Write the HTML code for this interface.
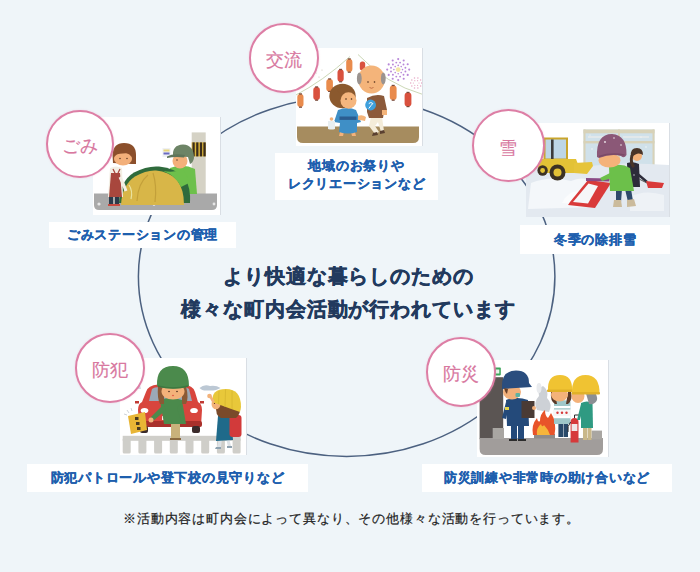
<!DOCTYPE html>
<html lang="ja"><head><meta charset="utf-8">
<style>
html,body{margin:0;padding:0;}
body{width:700px;height:572px;background:#eff5f9;position:relative;overflow:hidden;font-family:"Liberation Sans",sans-serif;}
.abs{position:absolute;}
.ring{position:absolute;left:0;top:0;}
.card{position:absolute;background:#fff;overflow:hidden;box-shadow:1px 0 0 #d9dee4;}
.card svg{display:block;}
.lbl{position:absolute;background:#fff;color:#1e5fae;font-weight:bold;font-size:13px;letter-spacing:0.75px;-webkit-text-stroke:0.3px #1e5fae;text-align:center;white-space:nowrap;line-height:18px;}
.circ{position:absolute;width:69px;height:69px;border-radius:50%;border:2px solid #dd7ea5;box-shadow:0 0 2px rgba(232,140,175,0.35);background:#fff;box-sizing:border-box;color:#d8789f;font-size:18px;-webkit-text-stroke:0.15px #d8789f;text-align:center;line-height:69px;white-space:nowrap;}
.main{position:absolute;left:0;width:697px;text-align:center;color:#223a5e;font-weight:bold;font-size:20px;letter-spacing:0.95px;-webkit-text-stroke:0.5px #223a5e;white-space:nowrap;}
.note{position:absolute;left:123px;top:510px;color:#222;-webkit-text-stroke:0.2px #222;font-size:13px;letter-spacing:0.85px;white-space:nowrap;}
</style></head>
<body>
<svg class="ring" width="700" height="572"><ellipse cx="346.65" cy="276.6" rx="208.25" ry="179.8" fill="none" stroke="#4c6180" stroke-width="1.5"/></svg>

<!-- 交流 -->
<div class="card" style="left:296px;top:48px;width:126px;height:98px;"><svg width="126" height="98" viewBox="0 0 126 98">
<path d="M1 78.5 H123 V89 Q123 95 117 95 H7 Q1 95 1 89 Z" fill="#a68c5f"/>
<path d="M-1 47.5 Q27 33 54 8.5" stroke="#c5d2ae" stroke-width="0.9" fill="none"/>
<path d="M62 6.5 Q90 36 127 46.5" stroke="#c5d2ae" stroke-width="0.9" fill="none"/>
<g fill="#e98b4c"><rect x="1.3" y="46" width="6.2" height="13" rx="3"/><rect x="30.3" y="31" width="6.6" height="12.4" rx="3"/><rect x="50.2" y="11" width="6.2" height="13" rx="3"/><rect x="93.8" y="37.5" width="6.8" height="14.5" rx="3.2"/></g>
<g fill="#d9513e"><rect x="17.3" y="39" width="6.6" height="13" rx="3"/><rect x="41.5" y="21.5" width="6.2" height="12.3" rx="3"/><rect x="63.8" y="13.5" width="5.4" height="9" rx="2.5"/><rect x="108.6" y="44.5" width="6.8" height="14" rx="3.2"/></g>
<g fill="#7a4a3a"><rect x="3" y="45.3" width="3" height="1.3"/><rect x="3" y="58.6" width="3" height="1.2"/><rect x="19.1" y="38.3" width="3" height="1.3"/><rect x="19.1" y="51.6" width="3" height="1.2"/><rect x="32.1" y="30.3" width="3" height="1.3"/><rect x="32.1" y="42.8" width="3" height="1.2"/><rect x="43.1" y="20.8" width="3" height="1.3"/><rect x="43.1" y="33.2" width="3" height="1.2"/><rect x="51.8" y="10.3" width="3" height="1.3"/><rect x="51.8" y="23.6" width="3" height="1.2"/><rect x="95.7" y="36.8" width="3" height="1.3"/><rect x="95.7" y="51.6" width="3" height="1.2"/><rect x="110.5" y="43.8" width="3" height="1.3"/><rect x="110.5" y="58" width="3" height="1.2"/></g>
<g fill="#b887d8"><circle cx="113.2" cy="21.6" r="1.05"/><circle cx="111.7" cy="26.9" r="1.05"/><circle cx="107.7" cy="30.7" r="1.05"/><circle cx="102.2" cy="32.1" r="1.05"/><circle cx="96.7" cy="30.7" r="1.05"/><circle cx="92.7" cy="26.9" r="1.05"/><circle cx="91.2" cy="21.6" r="1.05"/><circle cx="92.7" cy="16.4" r="1.05"/><circle cx="96.7" cy="12.5" r="1.05"/><circle cx="102.2" cy="11.1" r="1.05"/><circle cx="107.7" cy="12.5" r="1.05"/><circle cx="111.7" cy="16.3" r="1.05"/><circle cx="109.4" cy="23.5" r="0.95"/><circle cx="107.5" cy="26.7" r="0.95"/><circle cx="104.1" cy="28.6" r="0.95"/><circle cx="100.3" cy="28.6" r="0.95"/><circle cx="96.9" cy="26.7" r="0.95"/><circle cx="95.0" cy="23.5" r="0.95"/><circle cx="95.0" cy="19.7" r="0.95"/><circle cx="96.9" cy="16.5" r="0.95"/><circle cx="100.3" cy="14.6" r="0.95"/><circle cx="104.1" cy="14.6" r="0.95"/><circle cx="107.5" cy="16.5" r="0.95"/><circle cx="109.4" cy="19.7" r="0.95"/><circle cx="106.5" cy="21.6" r="0.8"/><circle cx="105.2" cy="24.6" r="0.8"/><circle cx="102.2" cy="25.8" r="0.8"/><circle cx="99.2" cy="24.6" r="0.8"/><circle cx="97.9" cy="21.6" r="0.8"/><circle cx="99.2" cy="18.6" r="0.8"/><circle cx="102.2" cy="17.4" r="0.8"/><circle cx="105.2" cy="18.6" r="0.8"/></g>
<circle cx="102.2" cy="21.6" r="2.4" fill="#f3e7a6"/>
<g fill="#e7a7c4"><circle cx="125.7" cy="35.0" r="0.75"/><circle cx="124.6" cy="38.1" r="0.75"/><circle cx="121.9" cy="40.0" r="0.75"/><circle cx="118.5" cy="40.0" r="0.75"/><circle cx="115.8" cy="38.1" r="0.75"/><circle cx="114.7" cy="35.0" r="0.75"/><circle cx="115.8" cy="31.9" r="0.75"/><circle cx="118.5" cy="30.0" r="0.75"/><circle cx="121.9" cy="30.0" r="0.75"/><circle cx="124.6" cy="31.9" r="0.75"/><circle cx="123.0" cy="35.0" r="0.6"/><circle cx="121.6" cy="37.3" r="0.6"/><circle cx="118.8" cy="37.3" r="0.6"/><circle cx="117.4" cy="35.0" r="0.6"/><circle cx="118.8" cy="32.7" r="0.6"/><circle cx="121.6" cy="32.7" r="0.6"/></g>
<g fill="#c7c2b5"><circle cx="20" cy="25" r="0.6"/><circle cx="23" cy="29" r="0.6"/><circle cx="26" cy="22" r="0.6"/></g>
<!-- child -->
<path d="M44 84 L43 88 L47 88 L48 84 Z M55 84 L56 88 L60 88 L59 84 Z" fill="#f3b27b"/>
<path d="M42 62 Q52 58 60 62 L65 74 L61 75 L61 84 Q52 87 43 84 L44 75 L38 74 Z" fill="#3f8fc6"/>
<rect x="43.5" y="68.5" width="17" height="3.4" fill="#2b5c90"/>
<path d="M32 73 L39 73 L39 81 Q35.5 82 32 81 Z" fill="#e8eef0"/>
<circle cx="35.5" cy="71" r="1.8" fill="#f3b27b"/>
<ellipse cx="46.5" cy="48" rx="13.2" ry="12.2" fill="#8b592e"/>
<ellipse cx="52.5" cy="52.5" rx="8" ry="8.3" fill="#f5b67e"/>
<circle cx="50" cy="51" r="0.8" fill="#4a2a1a"/><circle cx="55.5" cy="51" r="0.8" fill="#4a2a1a"/>
<path d="M41 42 Q50 36 58 43 Q50 41 44 46 Z" fill="#8b592e"/>
<!-- old man -->
<path d="M75 69 L73 78 L79 86 L83 84 L79 78 L82 74 L85 84 L88 83 L86 69 Z" fill="#f4ecd9"/>
<path d="M77 85 L81 84 L82 87 L76 88 Z M84 83 L88 82 L89 85 L84 86 Z" fill="#5a4030"/>
<path d="M71 50 Q80 45 88 48 L91 62 L88 64 L87 70 L73 70 L71 64 Z" fill="#8c5a3a"/>
<path d="M86 62 L91 62 L91 67 L86 67 Z" fill="#f4b47a"/>
<path d="M62 68 Q66 66 70 69 L69 73 Q65 72 62 72 Z" fill="#f4b47a"/>
<circle cx="74.6" cy="57" r="5.4" fill="#3ea0dd"/>
<path d="M72.8 55.5 Q74.8 53.5 76.8 55.5 Q74.8 57.5 72.8 60.5" stroke="#fff" stroke-width="1" fill="none"/>
<ellipse cx="75.5" cy="31.5" rx="13.3" ry="14" fill="#f4b47a"/>
<ellipse cx="63.3" cy="30.5" rx="2.4" ry="6" fill="#9b938f"/>
<ellipse cx="87.3" cy="30.5" rx="2.4" ry="6" fill="#9b938f"/>
<circle cx="72" cy="34" r="0.8" fill="#4a2a1a"/><circle cx="78.5" cy="34" r="0.8" fill="#4a2a1a"/>
<path d="M73.5 39.5 Q75.5 41 77.5 39.5" stroke="#b5603a" stroke-width="0.8" fill="none"/>
</svg></div>
<div class="lbl" style="left:275px;top:153px;width:163px;height:47px;padding-top:4px;box-sizing:border-box;">地域のお祭りや<br>レクリエーションなど</div>
<div class="circ" style="left:248.8px;top:22.6px;width:70px;height:70px;line-height:70px;">交流</div>

<!-- ごみ -->
<div class="card" style="left:93px;top:117px;width:127px;height:98px;"><svg width="127" height="98" viewBox="0 0 127 98">
<rect x="98.7" y="15.4" width="14" height="62" fill="#d5d2c5"/>
<rect x="98.7" y="25.4" width="14" height="14" fill="#d9b43c"/>
<g fill="#3a2c1c"><rect x="99.5" y="25.4" width="2.2" height="14"/><rect x="103.2" y="25.4" width="2.2" height="14"/><rect x="106.9" y="25.4" width="2.2" height="14"/><rect x="110.4" y="25.4" width="2.3" height="14"/></g>
<path d="M1 76.5 H124 V88 Q124 93 119 93 H6 Q1 93 1 88 Z" fill="#a9a9a9"/>
<g fill="#e6e6e6"><circle cx="6" cy="87" r="1.6"/><circle cx="61" cy="87.5" r="1.4"/><circle cx="121" cy="87" r="1.4"/><circle cx="50" cy="84" r="0.8"/></g>
<rect x="69.5" y="31" width="8" height="9" fill="#eef0f4"/>
<rect x="70.5" y="32.5" width="6" height="2" fill="#e8d67a"/><rect x="70.5" y="35.5" width="6" height="2" fill="#6a6ac0"/>
<!-- man -->
<path d="M77 51 Q90 46 102 52 L104 77 L78 77 Z" fill="#6dc04b"/>
<ellipse cx="87" cy="44" rx="7.5" ry="7.5" fill="#f3b07a"/>
<path d="M80 39 Q79 28 90 27.5 Q101 28 101 41 Q100 46 97 47 L95 40 Z" fill="#6d8466"/>
<path d="M74 39.5 Q80 36 92 38 L91 40.5 Q82 39.5 74 41 Z" fill="#5f755a"/>
<circle cx="84" cy="43" r="0.7" fill="#4a2a1a"/>
<!-- bags -->
<path d="M26 86 Q27 64 41 55.5 Q54 48.5 66 49.5 Q82 51 92 61 Q98 71 97 86 Z" fill="#2f6b3c"/>
<path d="M28 88 Q29 68 42 59.5 Q53 53 63 53.5 Q76 54.5 84 63 Q91 72 91 88 Z" fill="#d8b648"/>
<path d="M44 84 Q45 66 55 58" stroke="#c3a03a" stroke-width="1.2" fill="none"/>
<path d="M62 85 Q64 68 60 56" stroke="#c3a03a" stroke-width="1.2" fill="none"/>
<path d="M36 68 Q40 74 38 82" stroke="#eae3a0" stroke-width="1.2" fill="none"/>
<path d="M70 54 Q82 56 90 52 Q94 58 96 66 L88 70 Q82 58 70 54 Z" fill="#6dc04b"/>
<!-- woman -->
<path d="M16 79 L16 87 L20 87 L20 79 Z M22 79 L22 87 L26 87 L26 79 Z" fill="#2b3a4a"/>
<path d="M15 87 H21 V89 H15 Z M21 87 H27 V89 H21 Z" fill="#c74a40"/>
<path d="M17 51 Q23 48 29 51 L30 80 L15 80 Z" fill="#f3efe4"/>
<path d="M18 56 L27 56 L29 80 L16 80 Z" fill="#a8473d"/>
<path d="M20 52 L22 56 M27 52 L25 56" stroke="#a8473d" stroke-width="1.3"/>
<path d="M27 60 Q31 68 33 74" stroke="#f3efe4" stroke-width="3" fill="none"/>
<path d="M19.5 38 Q20 26 31 26 Q43 26 43 38 L43 47 L39 47 L20 46 Z" fill="#8b4f2b"/>
<ellipse cx="30" cy="42" rx="9" ry="6.5" fill="#f3b07a"/>
<path d="M21 36 Q30 32 42 35 L42 37 Q30 35 21 38 Z" fill="#8b4f2b"/>
<circle cx="27" cy="41.5" r="0.7" fill="#4a2a1a"/><circle cx="34" cy="41.5" r="0.7" fill="#4a2a1a"/>
</svg></div>
<div class="lbl" style="left:49px;top:222px;width:187px;height:26px;line-height:26px;">ごみステーションの管理</div>
<div class="circ" style="left:46.2px;top:110.2px;width:68px;height:68px;line-height:68px;">ごみ</div>

<!-- 雪 -->
<div class="card" style="left:526px;top:123px;width:143px;height:94px;"><svg width="143" height="94" viewBox="0 0 143 94">
<rect x="57.5" y="6.5" width="71" height="37" fill="#d0e1ea"/>
<rect x="57.5" y="6.5" width="71" height="3.8" fill="#d8d2b8"/>
<rect x="57.5" y="18" width="71" height="2.4" fill="#d8d2b8"/>
<rect x="57.5" y="6.5" width="2" height="37" fill="#d8d2b8"/><rect x="92" y="6.5" width="2" height="37" fill="#d8d2b8"/><rect x="126.5" y="6.5" width="2" height="37" fill="#d8d2b8"/>
<rect x="62" y="13" width="26" height="2" fill="#e2e8ea"/><rect x="97" y="13" width="26" height="2" fill="#e2e8ea"/>
<path d="M0 45 Q30 40 60 44 Q90 38 143 42 V94 H0 Z" fill="#e3e9f0"/>
<path d="M20 72 L50 64 L54 82 L22 84 Z" fill="#cfd5de"/>
<path d="M5 60 Q25 52 45 58 Q58 52 66 60 L70 84 L2 86 Z" fill="#f4f7fa"/>
<path d="M36 80 Q44 64 60 70 Q66 74 70 82 Z" fill="#fbfcfd"/>
<path d="M104 74 Q118 66 138 72 L138 88 L104 88 Z" fill="#eef2f6"/>
<!-- loader -->
<rect x="17.5" y="14.5" width="24.5" height="23" fill="#c9a52c"/>
<rect x="19.5" y="16.5" width="20.5" height="19" fill="#bdd6e6"/>
<rect x="25" y="16.5" width="2.6" height="20" fill="#3b3b3b"/>
<path d="M12 36 H50 L53 44 L52 50 H12 Z" fill="#e3c236"/>
<path d="M48 40 L66 39 L67 43 L61 51 L48 50 Z" fill="#e6c43a"/>
<circle cx="16.6" cy="47.5" r="5.2" fill="#3c3224"/><circle cx="16.6" cy="47.5" r="2.4" fill="#e3c236"/>
<circle cx="31.5" cy="49.5" r="8" fill="#3c3224"/><circle cx="31.5" cy="49.5" r="4" fill="#e3c236"/>
<!-- shovel 1 -->
<path d="M62 57 L44 79 L42 82 L69 85 L85 60 Z" fill="#d93a3a"/>
<path d="M62.5 60.5 L47 79 L62 80.5 L72 63 Z" fill="#f6f6f8"/>
<path d="M60 55 L84 55.5 L83 58.5 L60 58 Z" fill="#8a4a86"/>
<!-- second person -->
<path d="M101 40 Q107 38 113 41 L114 64 L102 64 Z" fill="#2d2c3a"/>
<path d="M108 48 L121 59" stroke="#2d2c3a" stroke-width="2.4"/>
<path d="M113 56 L121 60" stroke="#555" stroke-width="1"/>
<path d="M120 58 L138 60 L136 65 L122 65 Z" fill="#d93a3a"/>
<ellipse cx="111" cy="33" rx="5" ry="5" fill="#f4b27a"/>
<path d="M105 33 Q104 25 111 25 Q117 25 117 32 Q112 28 106 34 Z" fill="#4a3528"/>
<path d="M106 32 Q104 40 108 44" stroke="#4a3528" stroke-width="3" fill="none"/>
<!-- woman -->
<path d="M90 66 L96 66 L95 79 L90 79 Z M99 66 L105 66 L107 78 L102 79 Z" fill="#2e4a6a"/>
<path d="M88 77 L95 77 L96 84 L87 84 Z M101 77 L108 76 L110 83 L101 84 Z" fill="#cbbb9c"/>
<path d="M83 44 Q94 39 104 45 L108 68 L84 68 Z" fill="#6cc04a"/>
<path d="M84 50 L74 55 L76 58 L86 55 Z" fill="#6cc04a"/>
<ellipse cx="83.5" cy="37.5" rx="11" ry="7" fill="#f4b27a"/>
<path d="M71 34 Q70 11 86 11 Q101 12 100.5 32 Q98 36 95 33 Q85 30.5 73 35 Z" fill="#8b5877"/>
<path d="M73 33.5 Q85 29.5 98.5 32" stroke="#7a4a68" stroke-width="1.4" fill="none"/>
<g fill="#fff" opacity="0.85"><circle cx="79" cy="19" r="0.9"/><circle cx="88" cy="15" r="0.8"/><circle cx="95" cy="22" r="0.8"/><circle cx="66" cy="26" r="0.7"/><circle cx="120" cy="24" r="0.7"/><circle cx="108" cy="52" r="0.7"/><circle cx="64" cy="12" r="0.6"/><circle cx="115" cy="14" r="0.6"/><circle cx="44" cy="20" r="0.6"/></g>
</svg></div>
<div class="lbl" style="left:520px;top:225px;width:150px;height:29px;line-height:29px;">冬季の除排雪</div>
<div class="circ" style="left:471.5px;top:108.5px;width:73px;height:73px;line-height:75px;">雪</div>

<!-- 防犯 -->
<div class="card" style="left:120px;top:358px;width:126px;height:97px;"><svg width="126" height="97" viewBox="0 0 126 97">
<g fill="#cfcec9"><rect x="2.7" y="77.8" width="117.9" height="5"/><rect x="2.7" y="80" width="8" height="15.5" rx="1.5"/><rect x="18.4" y="80" width="8" height="15.5" rx="1.5"/><rect x="34.1" y="80" width="8" height="15.5" rx="1.5"/><rect x="49.8" y="80" width="8" height="15.5" rx="1.5"/><rect x="65.5" y="80" width="8" height="15.5" rx="1.5"/><rect x="81.2" y="80" width="8" height="15.5" rx="1.5"/><rect x="96.9" y="80" width="8" height="15.5" rx="1.5"/><rect x="112.6" y="80" width="8" height="15.5" rx="1.5"/></g>
<path d="M79.5 30 Q84 26 90 28 Q96 27 100.5 30 Q96 33 88 32.5 Q82 33 79.5 30 Z" fill="#bcc8d4"/>
<path d="M14 28 L20 27 L21 31 L15 31 Z" fill="#bcc8d4" opacity="0.6"/>
<!-- car -->
<path d="M26 34 Q28 27 38 26.5 L63 26.5 Q73 27 75 34 L78 44 Q82 46 82 52 L81 68 L19 68 L18 52 Q18 46 22 44 Z" fill="#d8453d"/>
<path d="M29 43 L32 31 Q34 29 40 29 L61 29 Q67 29 69 31 L72 43 Z" fill="#9ba9b7"/>
<rect x="18" y="63" width="64" height="6" rx="2" fill="#a9302b"/>
<rect x="20" y="68" width="8" height="7" rx="2" fill="#3a2a2a"/><rect x="72" y="68" width="8" height="7" rx="2" fill="#3a2a2a"/>
<ellipse cx="24.5" cy="52.5" rx="3.8" ry="2.6" fill="#fff"/><ellipse cx="74" cy="52.5" rx="3.8" ry="2.6" fill="#fff"/>
<rect x="15" y="43" width="4" height="2.5" fill="#c03a34"/><rect x="80" y="43" width="4" height="2.5" fill="#c03a34"/>
<rect x="42" y="58" width="16" height="4" fill="#fff" opacity="0.9"/>
<!-- woman -->
<path d="M51 65 L56 65 L56 80 L51 80 Z M55 65 L60 65 L60 80 L55 80 Z" fill="#c9b27b"/>
<path d="M50 80 L56 80 L56 82 L50 82 Z M55 80 L61 80 L61 82 L55 82 Z" fill="#8a6a40"/>
<path d="M40 42 Q50 38 62 42 L66 66 L44 66 Z" fill="#4b8a4c"/>
<path d="M44 46 L30 60 L33 63 L46 52 Z" fill="#4b8a4c"/>
<circle cx="31" cy="62" r="2.5" fill="#f3b27a"/>
<path d="M60 46 L64 62 L61 63 L57 50 Z" fill="#4b8a4c"/>
<path d="M38 28 Q37 40 40 46 L44 46 L44 30 Z M66 28 Q69 40 66 46 L62 46 L62 30 Z" fill="#8b5a35"/>
<ellipse cx="53" cy="33.5" rx="11.5" ry="8" fill="#f3b27a"/>
<path d="M37 28 Q36 8 53 8 Q69 8 69 28 Q62 31 53 30.5 Q43 30.5 37 28 Z" fill="#4b8a4c"/>
<path d="M38 28 Q53 32 68 28" stroke="#3e7840" stroke-width="1.5" fill="none"/>
<circle cx="49" cy="33.5" r="0.8" fill="#4a2a1a"/><circle cx="57" cy="33.5" r="0.8" fill="#4a2a1a"/>
<ellipse cx="53" cy="37.5" rx="1.1" ry="0.8" fill="#e0604a"/>
<!-- flag -->
<path d="M8 58 L25 54 L27 72 L11 76 Z" fill="#e8b535"/>
<g fill="#4a3a20"><rect x="15" y="59" width="3.5" height="3"/><rect x="16" y="64" width="3.5" height="3"/><rect x="17" y="69" width="3.5" height="3"/></g>
<path d="M7 52 L9 55 M11 50 L12 53 M4 56 L7 57" stroke="#b9c0c8" stroke-width="0.7"/>
<!-- child -->
<path d="M99 80 L102 80 L101 89 L97 89 Z M106 80 L109 80 L111 88 L108 89 Z" fill="#dde2e6"/>
<path d="M96 89 L101 89 L101 91 L95 91 Z M107 88 L112 88 L112 90 L107 90 Z" fill="#8fa2b0"/>
<path d="M98 58 Q104 55 111 58 L113 82 L96 83 Z" fill="#1f6a8a"/>
<rect x="109.5" y="57" width="12" height="22" rx="3" fill="#d23a3a"/>
<path d="M96 46 Q95 58 101 60 L116 60 Q121 56 120 48 Z" fill="#7a4a2a"/>
<ellipse cx="96" cy="46" rx="4.5" ry="5.2" fill="#f3b27a"/>
<circle cx="94.5" cy="45.5" r="0.6" fill="#4a2a1a"/>
<path d="M92.5 44 Q91 31 106 31 Q121 31 121 49 L120 54 Q108 50 92.5 44 Z" fill="#e8c83a"/>
<path d="M99 33 L98.5 46 M105.5 31.5 L105 49 M112 32.5 L112 51" stroke="#d6b52e" stroke-width="0.8"/>
<path d="M88 37 L92 44 L95 44 L91 37 Z" fill="#f3b27a"/>
<circle cx="89.5" cy="38" r="2.3" fill="#f3b27a"/>
</svg></div>
<div class="lbl" style="left:27px;top:464px;width:281px;height:28px;line-height:28px;">防犯パトロールや登下校の見守りなど</div>
<div class="circ" style="left:75px;top:332.5px;width:70px;height:70px;line-height:70px;">防犯</div>

<!-- 防災 -->
<div class="card" style="left:477px;top:360px;width:131px;height:97px;"><svg width="131" height="97" viewBox="0 0 131 97">
<rect x="2.6" y="17.2" width="23.6" height="62" fill="#5b5553"/>
<rect x="17.5" y="7.6" width="6.3" height="7.8" rx="0.8" fill="#3aa55a"/>
<rect x="19" y="9.5" width="3.3" height="4" fill="#e6f5ea"/>
<path d="M2.6 78 H126 V89 Q126 95 120 95 H8.6 Q2.6 95 2.6 89 Z" fill="#a19d9b"/>
<rect x="15.7" y="68" width="11.3" height="11" fill="#a9a6a2"/>
<rect x="114.6" y="70.6" width="10.4" height="8.8" fill="#a9a6a2"/>
<!-- smoke -->
<path d="M60 50 Q56 42 62 36 Q60 28 66 26 Q72 30 70 38 Q76 44 72 52 Z" fill="#cdd1d6"/>
<ellipse cx="62" cy="28" rx="2.5" ry="5" fill="#e9ebee"/>
<!-- fire -->
<rect x="57" y="74" width="21" height="4.5" fill="#8f8b88"/>
<path d="M56 75 Q54 65 60 58 Q61 63 63 61 Q63 54 68 50 Q68 56 71 58 Q73 55 74 53 Q80 62 77.5 75 Z" fill="#e8542a"/>
<path d="M60 75 Q59 68 64 64 Q65 68 67 65 Q71 69 73 75 Z" fill="#f6b53a"/>
<!-- officer -->
<path d="M34 64 L40 64 L40 79 L34 79 Z M41 64 L47 64 L47 79 L41 79 Z" fill="#244a7a"/>
<path d="M32 79 L40 79 L40 81 L32 81 Z M41 79 L49 79 L49 81 L41 81 Z" fill="#2c2c2c"/>
<path d="M29 40 Q40 36 51 40 L52 66 L30 66 Z" fill="#244a7a"/>
<path d="M29 42 L25 58 L29 59 L32 46 Z" fill="#244a7a"/>
<rect x="28" y="47" width="4" height="3" fill="#e3d54a"/>
<path d="M44.5 41 L57.5 41 L57.5 58 L44.5 58 Z" fill="#4a3b35"/>
<circle cx="57" cy="48" r="2" fill="#f2b07a"/>
<ellipse cx="35" cy="32" rx="9" ry="7.5" fill="#f2b07a"/>
<rect x="38.5" y="33" width="4.5" height="4" rx="1" fill="#5db2a2"/>
<path d="M25 28 Q24 11 39 10.5 Q52 10.5 52 23 L55 27 L25 29 Z" fill="#2a4d7e"/>
<path d="M27 28 Q28 32 30 34 L31 29 Z" fill="#6a4028"/>
<!-- child -->
<path d="M81.4 62 L86 62 L86 77 L81.4 77 Z M86.5 62 L91 62 L91 77 L86.5 77 Z" fill="#2a4a6a"/>
<path d="M77 42 Q85 38 93.5 42 L93.5 64 L77 64 Z" fill="#9fc7c9"/>
<rect x="77" y="46" width="16.5" height="2.2" fill="#fff"/><rect x="77" y="56" width="16.5" height="2.2" fill="#fff"/>
<rect x="76" y="49.5" width="18" height="6.5" fill="#f6f6f6"/>
<circle cx="80.5" cy="52.7" r="1.2" fill="#d6393a"/><circle cx="85" cy="52.7" r="1.2" fill="#d6393a"/><circle cx="89.5" cy="52.7" r="1.2" fill="#d6393a"/>
<path d="M74 32 Q73 41 78 44 L80 44 L78 32 Z M91 32 L89 44 L91 44 Q96 40 94 32 Z" fill="#5a3a28"/>
<ellipse cx="82.5" cy="35" rx="8.5" ry="6.5" fill="#f3b27a"/>
<path d="M71 31 Q70 15 83 15 Q96 15 95 31 Z" fill="#f0c332"/>
<rect x="70" y="29.5" width="26" height="2.5" rx="1" fill="#e0b128"/>
<!-- extinguisher -->
<path d="M93.6 62 Q93.6 58 97.5 58 Q101.5 58 101.5 62 L101.5 82.5 L93.6 82.5 Z" fill="#d6393a"/>
<rect x="94.6" y="64" width="5.8" height="7" fill="#f0e8e8"/>
<path d="M97.5 58 L97.5 55 L103 55 M93.6 62 Q90 66 91 72" stroke="#2a2a2a" stroke-width="1" fill="none"/>
<!-- adult -->
<path d="M106 66 L110 66 L110 80 L106 80 Z M110.5 66 L114.5 66 L114.5 80 L110.5 80 Z" fill="#c9b88a"/>
<path d="M104 43 Q110 40 115.5 43 L116 68 L104 68 Z" fill="#2f9a82"/>
<path d="M104 44 L100 60 L103 60 L106 48 Z" fill="#2f9a82"/>
<path d="M108 30 Q121 30 120 40 Q118 45 112 44 Z" fill="#8b8f94"/>
<ellipse cx="101" cy="36" rx="6.5" ry="7" fill="#f3b27a"/>
<path d="M95 34 Q94 15 108.5 15 Q123 15 122.5 34 Z" fill="#f0c332"/>
<rect x="94.5" y="32" width="28.5" height="2.6" rx="1" fill="#e0b128"/>
</svg></div>
<div class="lbl" style="left:422px;top:464px;width:250px;height:28px;line-height:28px;">防災訓練や非常時の助け合いなど</div>
<div class="circ" style="left:425.6px;top:337.2px;width:70px;height:70px;line-height:70px;">防災</div>

<div class="main" style="top:263px;">より快適な暮らしのための</div>
<div class="main" style="top:296px;">様々な町内会活動が行われています</div>
<div class="note">※活動内容は町内会によって異なり、その他様々な活動を行っています。</div>
</body></html>
